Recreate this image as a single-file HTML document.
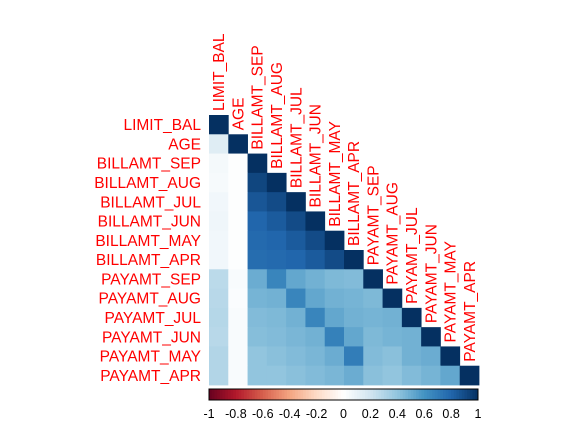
<!DOCTYPE html>
<html><head><meta charset="utf-8"><style>
body{margin:0;background:#fff}
svg text{font-family:"Liberation Sans",sans-serif}
</style></head><body>
<svg id="c" width="576" height="432" xmlns="http://www.w3.org/2000/svg"></svg>
<script>
const labels=["LIMIT_BAL","AGE","BILLAMT_SEP","BILLAMT_AUG","BILLAMT_JUL","BILLAMT_JUN","BILLAMT_MAY","BILLAMT_APR","PAYAMT_SEP","PAYAMT_AUG","PAYAMT_JUL","PAYAMT_JUN","PAYAMT_MAY","PAYAMT_APR"];
const corrRows=[
[1],
[0.14,1],
[0.05,0.01,1],
[0.04,0.01,0.92,1],
[0.06,0.01,0.86,0.90,1],
[0.07,0.01,0.80,0.84,0.90,1],
[0.06,0.01,0.78,0.80,0.84,0.90,1],
[0.06,0.01,0.77,0.78,0.80,0.84,0.90,1],
[0.27,0.03,0.50,0.66,0.52,0.48,0.45,0.44,1],
[0.28,0.02,0.47,0.48,0.66,0.52,0.48,0.47,0.45,1],
[0.29,0.03,0.44,0.45,0.48,0.66,0.52,0.48,0.47,0.48,1],
[0.28,0.03,0.43,0.44,0.46,0.48,0.68,0.52,0.45,0.47,0.48,1],
[0.30,0.03,0.40,0.42,0.44,0.46,0.50,0.70,0.44,0.42,0.48,0.50,1],
[0.30,0.03,0.40,0.40,0.42,0.44,0.46,0.50,0.42,0.40,0.44,0.47,0.52,1]];
const cbTicks=["-1","-0.8","-0.6","-0.4","-0.2","0","0.2","0.4","0.6","0.8","1"];
const pal=["#67001F","#B2182B","#D6604D","#F4A582","#FDDBC7","#FFFFFF","#D1E5F0","#92C5DE","#4393C3","#2166AC","#053061"];
function hex(h){return [1,3,5].map(i=>parseInt(h.substr(i,2),16));}
function col(v){let t=(v+1)/2*10;let i=Math.min(9,Math.floor(t));let f=t-i;let a=hex(pal[i]),b=hex(pal[i+1]);
return "rgb("+a.map((x,k)=>Math.round(x+(b[k]-x)*f)).join(",")+")";}
const svg=document.getElementById('c');const NS="http://www.w3.org/2000/svg";
const X0=209,Y0=115,CS=270/14;
function el(t,a){const e=document.createElementNS(NS,t);for(const k in a)e.setAttribute(k,a[k]);svg.appendChild(e);return e;}
corrRows.forEach((row,i)=>{row.forEach((v,j)=>{
 const r=el('rect',{x:X0+j*CS,y:Y0+i*CS,width:CS+0.4,height:CS+0.4,fill:col(v)});
 
 });});
labels.forEach((l,i)=>{
 const t=el('text',{x:201,y:Y0+i*CS+CS/2+5.5,'text-anchor':'end','font-size':15.5,fill:'#FF0000'});t.textContent=l;
 
 
 const cx=X0+i*CS+CS/2+5.5,cy=Y0+i*CS-4;
 const u=el('text',{x:cx,y:cy,'font-size':15.5,fill:'#FF0000',transform:'rotate(-90 '+cx+' '+cy+')'});u.textContent=l;
 
 });
const CB0=209,CB1=478,CBY=389,CBH=11,N=100;
for(let k=0;k<N;k++){const r=el('rect',{x:CB0+k*(CB1-CB0)/N,y:CBY,width:(CB1-CB0)/N+0.5,height:CBH,fill:col(-1+2*(k+0.5)/N)});
 
 }
const bd=el('rect',{x:CB0,y:CBY,width:CB1-CB0,height:CBH,fill:'none',stroke:'#000','stroke-width':1});


cbTicks.forEach((t,k)=>{const x=CB0+k*(CB1-CB0)/10;
 const tx=el('text',{x:x,y:418,'text-anchor':'middle','font-size':12.5,fill:'#000'});tx.textContent=t;
 
 });
</script>
</body></html>
